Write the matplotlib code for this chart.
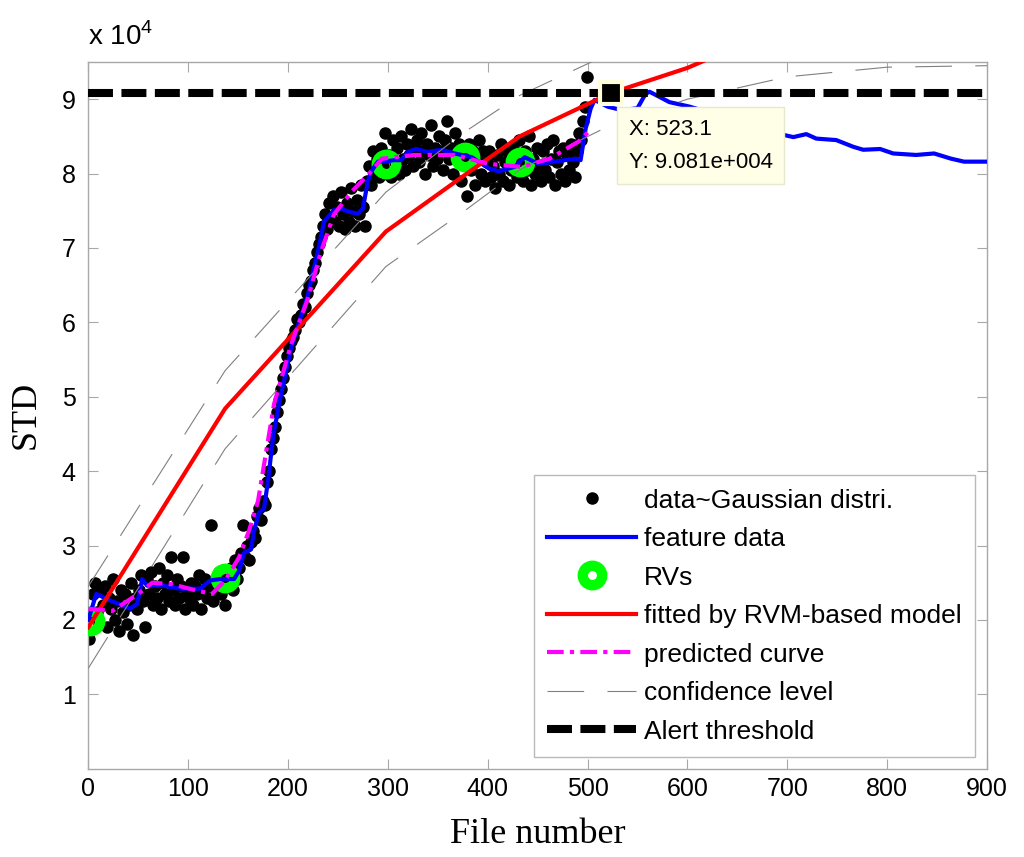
"""
STD feature data, RVM fit, predicted curve and alert threshold
"""

import numpy as np
from matplotlib import pyplot as plt

plt.rcParams['font.family'] = ['Liberation Sans', 'DejaVu Sans']
plt.rcParams['mathtext.fontset'] = 'custom'
plt.rcParams['mathtext.rm'] = 'Liberation Sans'

# Scatter data (STD in units of 1e4), one dot every 2 files
file_nr = np.arange(1, 500, 2)
std_data = [
    1.75, 2.05, 2.35, 2.50, 2.10, 1.95, 2.40, 2.20, 2.45, 1.90, 2.30, 2.15, 2.55, 2.00, 2.25, 1.85, 2.40, 2.10, 2.35, 1.95, 2.20, 2.50, 1.80, 2.30, 2.15,
    2.40, 2.60, 2.25, 1.90, 2.55, 2.35, 2.65, 2.20, 2.45, 2.30, 2.70, 2.15, 2.50, 2.35, 2.60, 2.25, 2.85, 2.40, 2.20, 2.55, 2.30, 2.45, 2.85, 2.15, 2.40,
    2.30, 2.50, 2.20, 2.45, 2.35, 2.60, 2.15, 2.40, 2.55, 2.30, 2.45, 3.27, 2.25, 2.50, 2.40, 2.65, 2.35, 2.50, 2.20, 2.60, 2.45, 2.70, 2.40, 2.80, 2.55,
    2.70, 2.90, 3.27, 2.85, 3.00, 2.80, 3.05, 3.20, 3.10, 3.40, 3.50, 3.35, 3.60, 3.55, 3.85, 4.00, 4.30, 4.45, 4.60, 4.80, 4.95, 5.10, 5.25, 5.40, 5.55,
    5.65, 5.75, 5.80, 5.90, 6.05, 6.00, 6.10, 6.25, 6.20, 6.40, 6.50, 6.55, 6.70, 6.80, 6.95, 7.05, 7.15, 7.30, 7.45, 7.25, 7.60, 7.40, 7.70, 7.35, 7.55,
    7.30, 7.75, 7.45, 7.25, 7.60, 7.35, 7.80, 7.50, 7.30, 7.65, 7.45, 7.85, 7.55, 7.30, 7.90, 8.10, 7.85, 8.30, 8.00, 8.20, 7.95, 8.35, 8.10, 8.55, 8.00,
    8.25, 7.95, 8.45, 8.15, 8.35, 8.00, 8.50, 8.20, 8.05, 8.40, 8.25, 8.60, 8.10, 8.35, 8.45, 8.15, 8.55, 8.30, 8.00, 8.40, 8.25, 8.65, 8.10, 8.35, 8.20,
    8.50, 8.30, 8.05, 8.45, 8.70, 8.20, 8.35, 8.00, 8.55, 8.25, 8.40, 7.90, 8.30, 8.15, 7.70, 8.40, 8.05, 8.30, 7.85, 8.20, 8.45, 8.00, 8.30, 7.90, 8.15,
    8.30, 7.95, 8.10, 7.80, 8.25, 8.00, 8.40, 7.90, 8.15, 8.30, 7.85, 8.05, 8.35, 8.10, 7.95, 8.45, 8.20, 7.90, 8.30, 8.05, 8.50, 7.85, 8.20, 8.00, 8.35,
    8.10, 7.90, 8.30, 8.05, 8.40, 7.95, 8.20, 8.45, 7.85, 8.15, 8.30, 8.00, 8.35, 7.90, 8.25, 8.05, 8.40, 8.15, 7.95, 8.30, 8.55, 8.45, 8.70, 8.90, 9.30,
]

# Feature data (blue)
feat_x = [0, 8, 22, 35, 42, 49, 54, 59, 75, 92, 112, 122, 132, 146, 151, 156, 163, 166, 171, 176,
          180, 185, 191, 203, 211, 220, 225, 230, 236, 243, 246, 253, 260, 270, 275, 280, 283, 290, 296, 306,
          313, 320, 328, 340, 354, 367, 384, 401, 411, 427, 437, 451, 467, 488, 493, 498, 503, 507, 520, 535,
          550, 558, 562, 582, 602, 640, 670, 693, 706, 719, 729, 749, 766, 776, 793, 806, 829, 847, 864, 877, 900]
feat_y = [2.00, 2.35, 2.26, 2.19, 2.15, 2.22, 2.55, 2.46, 2.46, 2.42, 2.42, 2.53, 2.55, 2.55, 2.66, 2.90, 2.95, 3.20, 3.44, 3.50,
          3.87, 4.45, 4.90, 5.65, 6.00, 6.37, 6.68, 6.95, 7.35, 7.46, 7.51, 7.53, 7.49, 7.46, 7.53, 7.90, 8.02, 8.16, 8.16, 8.18,
          8.18, 8.29, 8.33, 8.29, 8.32, 8.27, 8.22, 8.07, 8.03, 8.09, 8.22, 8.13, 8.16, 8.20, 8.18, 8.60, 8.87, 8.99, 8.90, 8.85,
          8.88, 9.07, 9.10, 8.96, 8.90, 8.75, 8.62, 8.53, 8.49, 8.53, 8.47, 8.45, 8.36, 8.32, 8.33, 8.27, 8.25, 8.27, 8.20, 8.16, 8.16]

# Relevance vectors
rv_x = [2, 137, 298, 377, 432]
rv_y = [1.99, 2.57, 8.13, 8.22, 8.16]

# Fitted by RVM-based model (red) and confidence level
fit_x = [0, 137, 298, 377, 432, 523.1, 600, 700, 800, 900]
fit_y = [1.90, 4.84, 7.22, 7.98, 8.50, 9.081, 9.42, 10.0, 10.2, 10.3]
conf_hi = [2.45, 5.35, 7.75, 8.56, 9.05, 9.62, 9.95, 10.4, 10.5, 10.6]
conf_lo = [1.35, 4.30, 6.75, 7.50, 8.05, 8.65, 9.00, 9.30, 9.43, 9.45]

# Predicted curve (magenta)
pred_x = [0, 24, 50, 64, 84, 107, 124, 137, 151, 161, 170, 186, 203, 220, 233, 246, 264, 280, 294, 327,
          367, 401, 434, 462, 491, 500]
pred_y = [2.15, 2.12, 2.35, 2.50, 2.48, 2.40, 2.35, 2.53, 2.84, 3.20, 3.60, 4.90, 5.70, 6.32, 6.95, 7.45, 7.76, 7.98, 8.20, 8.25,
          8.25, 8.13, 8.09, 8.20, 8.43, 8.55]

threshold = 9.081
tip_x, tip_y = 523.1, 9.081

fig = plt.figure(figsize=(10.24, 8.57), dpi=100)
ax = fig.add_axes([0.0862, 0.103, 0.8777, 0.8247])

ax.plot(file_nr, std_data, linestyle='none', marker='o', markersize=8,
        color='black', label='data~Gaussian distri.', zorder=2)
ax.plot(feat_x, feat_y, color='#0000ff', lw=3, label='feature data', zorder=4)
ax.plot(rv_x, rv_y, linestyle='none', marker='o', markersize=14, markeredgewidth=7.5,
        markerfacecolor='none', markeredgecolor='#00ff00', label='RVs', zorder=3)
ax.plot(fit_x, fit_y, color='#ff0000', lw=3, label='fitted by RVM-based model', zorder=5)
ax.plot(pred_x, pred_y, color='#ff00ff', lw=3, linestyle=(0, (4, 1.5, 1, 1.5)),
        label='predicted curve', zorder=6)
ax.plot(fit_x, conf_hi, color='#808080', lw=0.8, linestyle=(0, (33, 21)),
        label='confidence level', zorder=5)
ax.plot(fit_x, conf_lo, color='#808080', lw=0.8, linestyle=(0, (33, 21)), zorder=5)
ax.axhline(threshold, color='black', lw=5.8, linestyle=(0, (3.1, 1.05)),
           label='Alert threshold', zorder=7)

# Datatip
ax.plot([tip_x], [tip_y], marker='s', markersize=16, markerfacecolor='black',
        markeredgecolor='#ffffdc', markeredgewidth=3, zorder=9)
ax.text(541, 8.74, 'X: 523.1\nY: 9.081e+004', fontsize=16, va='top', ha='left',
        linespacing=1.8, zorder=10,
        bbox=dict(boxstyle='square,pad=0.5', fc='#ffffe8', ec='#e8e8cc', lw=1))

ax.set_xlim(0, 900)
ax.set_ylim(0, 9.5)
ax.set_xticks(range(0, 901, 100))
ax.set_yticks(range(1, 10))

for s in ax.spines.values():
    s.set_color('#a8a8a8')
    s.set_linewidth(1)
ax.tick_params(direction='in', length=7, top=True, right=True, color='#a8a8a8',
               labelcolor='black', labelsize=18)
ax.tick_params(axis='x', pad=6)
ax.tick_params(axis='y', pad=9)

ax.text(0, 1.024, r'x 10$^{4}$', transform=ax.transAxes, fontsize=20,
        ha='left', va='baseline')

ax.set_xlabel('File number', family='Liberation Serif', fontsize=26, labelpad=12)
ax.set_ylabel('STD', family='Liberation Serif', fontsize=26, labelpad=14)

leg = ax.legend(loc='lower right', fontsize=19, frameon=True, fancybox=False,
                edgecolor='#a8a8a8', borderaxespad=0.45, handlelength=3.4,
                handletextpad=0.3, labelspacing=0.55, borderpad=0.5)
leg.get_frame().set_linewidth(1)

plt.savefig('out.png', dpi=100)
